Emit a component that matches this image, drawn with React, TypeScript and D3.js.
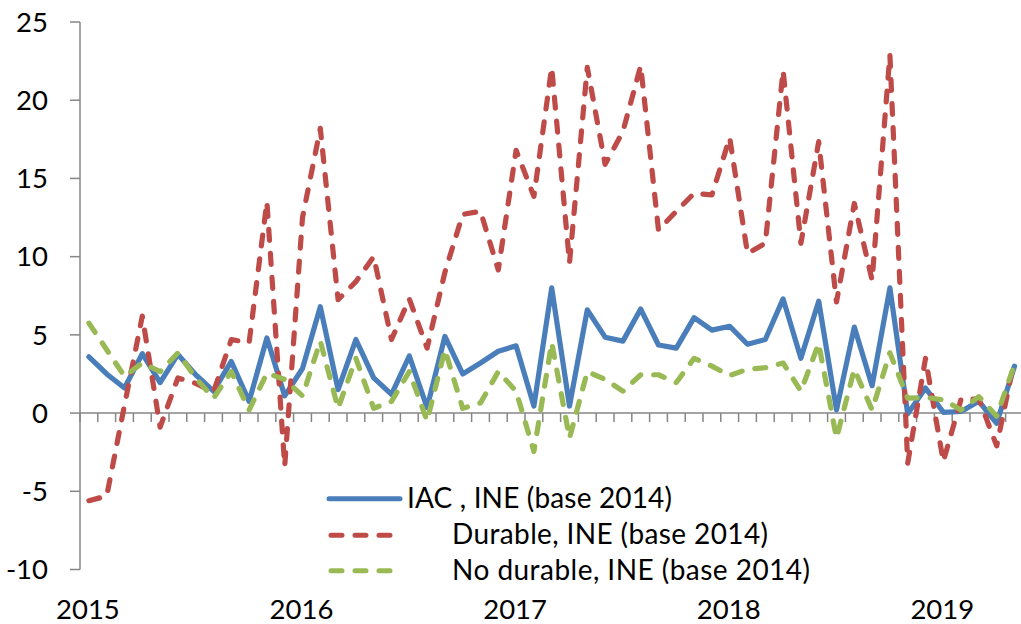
import React from "react";
import * as d3 from "d3";

// monthly, Jan 2015 .. May 2019
const months: string[] = d3
  .timeMonths(new Date(2015, 0, 1), new Date(2019, 5, 1))
  .map((d) => d3.timeFormat("%Y-%m")(d));

const yearLabels = ["2015", "2016", "2017", "2018", "2019"];
const yTicks = [-10, -5, 0, 5, 10, 15, 20, 25];

const iac = [
  3.6, 2.5, 1.6, 3.8, 1.95, 3.75, 2.45, 1.4, 3.3, 0.75, 4.8, 1.1,
  2.85, 6.8, 1.5, 4.7, 2.25, 1.2, 3.65, 0.35, 4.9, 2.5, 3.2, 3.95,
  4.3, 0.45, 8.0, 0.45, 6.6, 4.85, 4.6, 6.65, 4.35, 4.15, 6.1, 5.3,
  5.55, 4.4, 4.7, 7.3, 3.5, 7.15, 0.2, 5.5, 1.75, 8.0, -0.05, 1.6,
  0.05, 0.1, 0.75, -0.65, 3.0,
];

const durable = [
  -5.6, -5.3, 0.5, 6.2, -0.9, 2.25, 1.9, 1.35, 4.7, 4.5, 13.5, -3.4,
  12.5, 18.2, 7.25, 8.4, 10.0, 4.7, 7.3, 4.15, 9.0, 12.7, 12.9, 9.15,
  16.8, 13.85, 22.1, 9.6, 22.1, 15.9, 18.0, 22.2, 11.7, 12.9, 14.05, 13.95,
  17.6, 10.2, 10.85, 21.9, 10.85, 17.35, 7.1, 13.4, 8.5, 22.9, -3.2, 3.5,
  -3.1, 0.9, 0.9, -2.1, 3.4,
];

const noDurable = [
  5.75, 4.05, 2.35, 3.2, 2.65, 3.85, 2.25, 0.95, 2.65, 0.2, 2.55, 2.15,
  1.1, 4.6, 0.3, 3.5, 0.3, 0.75, 2.65, -0.5, 4.05, 0.3, 0.65, 2.65,
  1.4, -2.45, 4.5, -1.6, 2.65, 2.15, 1.4, 2.45, 2.45, 1.95, 3.5, 3.0,
  2.4, 2.8, 2.9, 3.2, 1.4, 4.45, -1.6, 2.8, 0.2, 3.85, 0.95, 1.0,
  0.85, 0.2, 1.05, -0.2, 3.1,
];

const seriesNames = [
  "IAC , INE (base 2014)",
  "Durable, INE (base 2014)",
  "No durable, INE (base 2014)",
];
const colors = ["#4A7EBB", "#BE4B48", "#98B954"];

const W = 1021;
const H = 624;
const FONT = "Lato, 'Open Sans', sans-serif";

export default function App() {
  const x = d3.scaleBand<string>().domain(months).range([80, 1023.4]);
  const y = d3.scaleLinear().domain([-10, 25]).range([569.5, 22]);
  const cx = (i: number) => (x(months[i]) || 0) + x.bandwidth() / 2;

  const line = d3
    .line<number>()
    .x((_, i) => cx(i))
    .y((d) => y(d));

  const series = [iac, durable, noDurable];
  const dash = [undefined, "11 13", "11 13"];
  const boundaries = months.map((m) => x(m) || 0).concat([x.range()[1]]);

  const legendRows = [
    { x1: 329, x2: 400, ly: 498.7, tx: 407, ty: 508, w: 265 },
    { x1: 331, x2: 391, ly: 535.3, tx: 452, ty: 544, w: 316 },
    { x1: 331, x2: 391, ly: 570.7, tx: 452, ty: 580, w: 358 },
  ];

  return (
    <svg
      width={W}
      height={H}
      style={{ position: "absolute", left: 0, top: 0, background: "#fff" }}
      fontFamily={FONT}
    >
      {/* y axis */}
      <line x1={80} x2={80} y1={y(25)} y2={y(-10)} stroke="#868686" strokeWidth={1.5} />
      {yTicks.map((t) => (
        <g key={t}>
          <line x1={70} x2={80} y1={y(t)} y2={y(t)} stroke="#868686" strokeWidth={1.5} />
          <text x={48} y={y(t) + 9.8} textAnchor="end" fontSize={27.5} fill="#000">
            {t}
          </text>
        </g>
      ))}

      {/* x axis at zero */}
      <line x1={80} x2={W + 5} y1={y(0)} y2={y(0)} stroke="#868686" strokeWidth={1.5} />
      {boundaries.map((b, i) => (
        <line key={i} x1={b} x2={b} y1={y(0)} y2={y(0) + 9} stroke="#868686" strokeWidth={1.5} />
      ))}
      {yearLabels.map((lab, i) => (
        <text key={lab} x={cx(i * 12) - 1} y={619} textAnchor="middle" fontSize={27.5} fill="#000">
          {lab}
        </text>
      ))}

      {/* series */}
      {series.map((s, i) => (
        <path
          key={i}
          d={line(s) || ""}
          fill="none"
          stroke={colors[i]}
          strokeWidth={5.2}
          strokeDasharray={dash[i]}
          strokeLinecap="round"
          strokeLinejoin="round"
        />
      ))}

      {/* legend */}
      {legendRows.map((r, i) => (
        <g key={i}>
          <line
            x1={r.x1}
            x2={r.x2}
            y1={r.ly}
            y2={r.ly}
            stroke={colors[i]}
            strokeWidth={5}
            strokeDasharray={dash[i]}
            strokeLinecap="round"
          />
          <text
            x={r.tx}
            y={r.ty}
            fontSize={28}
            fill="#000"
            textLength={r.w}
            lengthAdjust="spacing"
          >
            {seriesNames[i]}
          </text>
        </g>
      ))}
    </svg>
  );
}
